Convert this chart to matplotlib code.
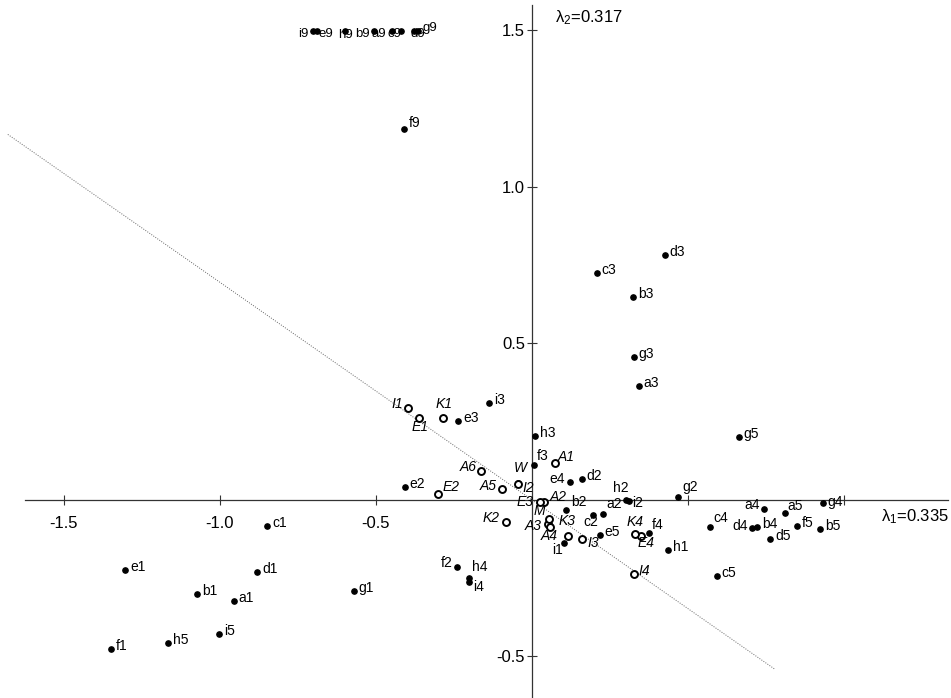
import matplotlib
matplotlib.use("Agg")
import matplotlib.pyplot as plt

plt.rcParams['font.family'] = ['Liberation Sans', 'DejaVu Sans']
plt.rcParams['mathtext.fontset'] = 'custom'
plt.rcParams['mathtext.rm'] = 'Liberation Sans'
plt.rcParams['mathtext.it'] = 'Liberation Sans:italic'

# filled points (row categories)
pt_names = ['a1', 'b1', 'c1', 'd1', 'e1', 'f1', 'g1', 'h1', 'i1',
            'a2', 'b2', 'c2', 'd2', 'e2', 'f2', 'g2', 'h2', 'i2',
            'a3', 'b3', 'c3', 'd3', 'e3', 'f3', 'g3', 'h3', 'i3',
            'a4', 'b4', 'c4', 'd4', 'e4', 'f4', 'g4', 'h4', 'i4',
            'a5', 'b5', 'c5', 'd5', 'e5', 'f5', 'g5', 'h5', 'i5',
            'a9', 'b9', 'c9', 'd9', 'e9', 'f9', 'g9', 'h9', 'i9', 'W']
pt_x = [-0.955, -1.074, -0.849, -0.881, -1.304, -1.349, -0.571, 0.436, 0.103,
        0.228, 0.109, 0.196, 0.160, -0.407, -0.240, 0.468, 0.301, 0.311,
        0.343, 0.324, 0.208, 0.426, -0.237, 0.006, 0.327, 0.010, -0.138,
        0.744, 0.721, 0.571, 0.705, 0.122, 0.375, 0.933, -0.202, -0.202,
        0.811, 0.923, 0.593, 0.763, 0.218, 0.849, 0.663, -1.167, -1.003,
        -0.449, -0.506, -0.420, -0.378, -0.690, -0.410, -0.365, -0.599, -0.702, -0.045]
pt_y = [-0.323, -0.300, -0.083, -0.230, -0.224, -0.476, -0.291, -0.160, -0.137,
        -0.045, -0.032, -0.048, 0.067, 0.042, -0.214, 0.010, 0.000, -0.003,
        0.364, 0.649, 0.725, 0.783, 0.252, 0.112, 0.457, 0.204, 0.310,
        -0.029, -0.086, -0.086, -0.089, 0.058, -0.105, -0.010, -0.249, -0.262,
        -0.042, -0.093, -0.243, -0.125, -0.112, -0.083, 0.201, -0.457, -0.428,
        1.497, 1.497, 1.497, 1.497, 1.497, 1.185, 1.497, 1.497, 1.497, 0.054]

# open circles (column categories)
oc_names = ['A1', 'A2', 'A3', 'A4', 'A5', 'A6', 'E1', 'E2', 'E3', 'E4',
            'I1', 'I2', 'I3', 'I4', 'K1', 'K2', 'K3', 'K4', 'M']
oc_x = [0.074, 0.038, 0.051, 0.058, -0.096, -0.163, -0.362, -0.301, 0.026, 0.349,
        -0.397, -0.045, 0.160, 0.327, -0.285, -0.083, 0.115, 0.330, 0.054]
oc_y = [0.118, -0.006, -0.077, -0.086, 0.035, 0.093, 0.262, 0.019, -0.006, -0.115,
        0.294, 0.051, -0.125, -0.236, 0.262, -0.070, -0.115, -0.109, -0.061]

# label offsets in points (dx, dy, ha); default is right of the point
default_off = (3.5, 2, 'left')
label_off = {
    'i9': (-3.5, -2, 'right'), 'e9': (1, -2, 'left'), 'h9': (0, -2.5, 'center'),
    'b9': (-3, -2, 'right'), 'a9': (-4.5, -2, 'right'), 'c9': (0.5, -2, 'right'),
    'd9': (2.5, -2, 'center'), 'g9': (3.5, 2.5, 'left'), 'f9': (3.5, 4, 'left'),
    'E2': (3.5, 5, 'left'), 'I1': (-3.5, 3, 'right'), 'E1': (1, -6.5, 'center'),
    'K1': (1, 10, 'center'), 'A6': (-3.5, 3, 'right'), 'A5': (-3.5, 2, 'right'),
    'W': (1.5, 11, 'center'), 'I2': (3, -3, 'left'), 'f3': (2, 6.5, 'left'),
    'A1': (2, 4.5, 'left'), 'e4': (-3.5, 2, 'right'), 'E3': (-5, 0, 'right'),
    'A2': (4, 3.5, 'left'), 'b2': (3.5, 5.5, 'left'), 'M': (-3, 5.5, 'right'),
    'A3': (-4.5, -1.5, 'right'), 'A4': (-0.5, -6.5, 'center'), 'K3': (-0.5, 11, 'center'),
    'i1': (-1, -5, 'right'), 'I3': (4, -3, 'left'), 'c2': (-2, -5, 'center'),
    'a2': (2, 7, 'left'), 'h2': (-4, 8.5, 'center'), 'i2': (2, -1.5, 'left'),
    'K4': (0, 8.5, 'center'), 'E4': (3.5, -5, 'center'), 'f4': (2, 5.5, 'left'),
    'g2': (3, 7, 'left'), 'c4': (2, 6, 'left'), 'a4': (-3, 3, 'right'),
    'd4': (-3, 1.5, 'right'), 'a5': (2, 5, 'left'), 'g4': (3, 0.5, 'left'),
    'h4': (2, 8, 'left'), 'i4': (3, -3.5, 'left'), 'f2': (-3.5, 3, 'right'),
    'K2': (-4.5, 3, 'right'),
}
top_row = {'a9', 'b9', 'c9', 'd9', 'e9', 'g9', 'h9', 'i9'}

lam1 = 0.335
lam2 = 0.317
slope = -0.695  # dotted reference line through the origin

fig = plt.figure(figsize=(9.51, 6.98), dpi=100)
ax = fig.add_axes([0, 0, 1, 1])
ax.set_xlim(-1.705, 1.343)
ax.set_ylim(-0.633, 1.597)

for s in ['top', 'right']:
    ax.spines[s].set_visible(False)
ax.spines['left'].set_position(('data', 0))
ax.spines['bottom'].set_position(('data', 0))
ax.spines['bottom'].set_bounds(-1.625, 1.333)
ax.spines['left'].set_bounds(-0.633, 1.58)
for s in ['left', 'bottom']:
    ax.spines[s].set_linewidth(0.9)
    ax.spines[s].set_color('#333333')

ax.set_xticks([-1.5, -1.0, -0.5, 0.5, 1.0])
ax.set_xticklabels(['-1.5', '-1.0', '-0.5', '', ''])
ax.set_yticks([-0.5, 0.5, 1.0, 1.5])
ax.set_yticklabels(['-0.5', '0.5', '1.0', '1.5'])
ax.tick_params(axis='x', direction='inout', length=7, width=0.8, color='#333333',
               pad=8, labelsize=12)
ax.tick_params(axis='y', direction='inout', length=7, width=0.8, color='#333333',
               pad=1.5, labelsize=12)

# dotted line
lx = [-1.68, 0.78]
ax.plot(lx, [slope * v for v in lx], ls=(0, (1, 1.5)), lw=0.7, color='#666666', zorder=1)

ax.plot(pt_x, pt_y, 'o', ms=3.8, color='black', zorder=3, clip_on=False)
ax.plot(oc_x, oc_y, 'o', ms=5, mfc='white', mec='black', mew=1.4, zorder=4)

for n, x, y in zip(pt_names, pt_x, pt_y):
    dx, dy, ha = label_off.get(n, default_off)
    style = 'italic' if n == 'W' else 'normal'
    fs = 9.5 if n in top_row else 10
    ax.annotate(n, (x, y), xytext=(dx, dy), textcoords='offset points',
                ha=ha, va='center', fontsize=fs, fontstyle=style, zorder=5)
for n, x, y in zip(oc_names, oc_x, oc_y):
    dx, dy, ha = label_off.get(n, default_off)
    ax.annotate(n, (x, y), xytext=(dx, dy), textcoords='offset points',
                ha=ha, va='center', fontsize=10, fontstyle='italic', zorder=5)

ax.text(1.335, -0.055, 'λ$_1$=%.3f' % lam1, ha='right', va='center', fontsize=12)
ax.text(0.075, 1.54, 'λ$_2$=%.3f' % lam2, ha='left', va='center', fontsize=12)

fig.savefig('out.png', dpi=100)
